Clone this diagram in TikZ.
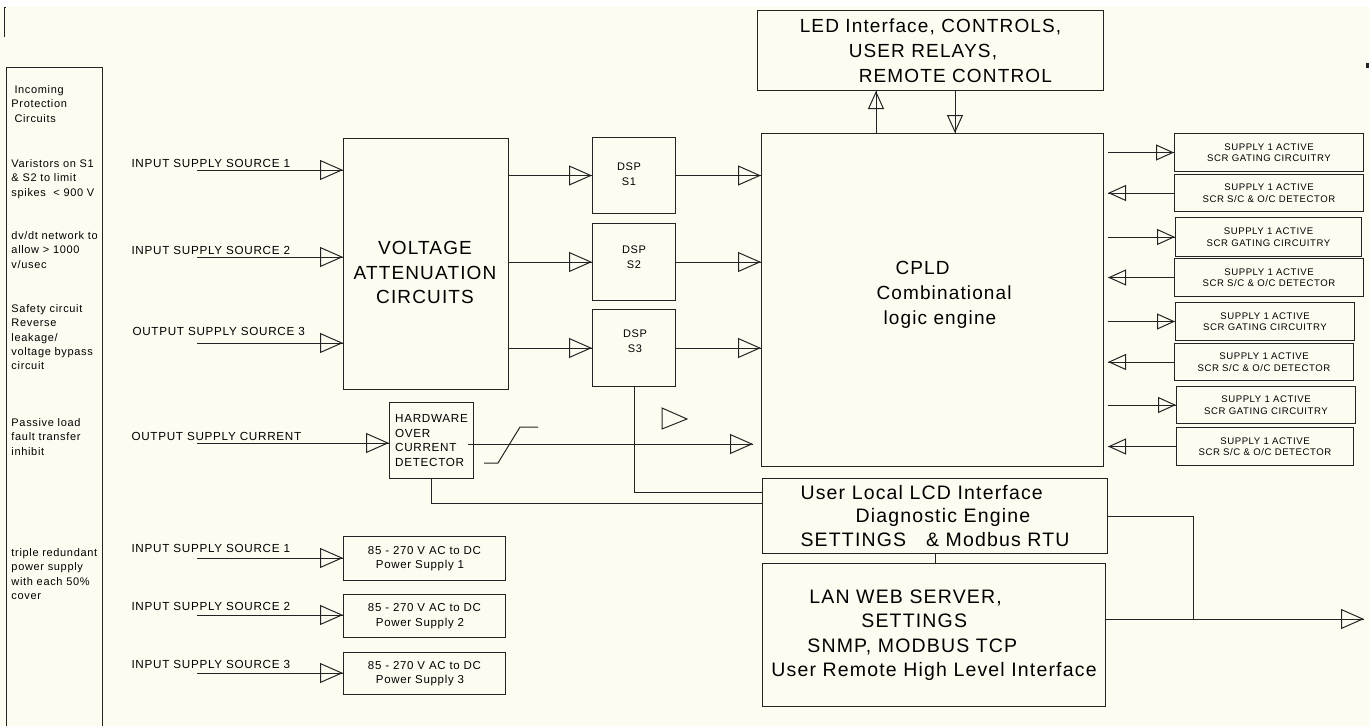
\documentclass[tikz,border=0pt]{standalone}
\usepackage{fontspec}
\setmainfont{Liberation Sans}[LetterSpace=6]
\usetikzlibrary{arrows.meta}
\definecolor{paper}{RGB}{254,252,241}
\definecolor{ink}{RGB}{35,35,35}
\tikzset{every picture/.style={line width=1pt}}
\tikzset{
  blk/.style={draw=ink, inner sep=0pt, anchor=north west},
  wire/.style={draw=ink},
  flow/.style={draw=ink, -{Triangle[open,length=23pt,width=20pt]}, postaction={draw=ink,-}},
  flowsm/.style={draw=ink, -{Triangle[open,length=18pt,width=16pt]}, postaction={draw=ink,-}},
  lbl/.style={inner sep=0pt, anchor=west, font=\fontsize{11.7}{14}\selectfont},
  note/.style={inner sep=0pt, anchor=north west, align=left, font=\fontsize{11}{14.3}\selectfont},
  bigtxt/.style={inner sep=0pt, font=\fontsize{19}{24.5}\selectfont},
  midtxt/.style={align=left, font=\fontsize{11.5}{14.5}\selectfont},
  smtxt/.style={align=center, font=\fontsize{9.6}{11.5}\selectfont},
}

\begin{document}
\begin{tikzpicture}[x=1pt,y=1pt,yscale=-1]
\useasboundingbox (0,0) rectangle (1369,726);
\fill[white] (0,0) rectangle (1369,726);
\fill[paper] (0,7) rectangle (1369,726);
\draw[wire] (4,37) -- (4,7) -- (6,7);
\fill[ink] (1366,63) rectangle (1369,68);

%Shape: Rectangle [protection column]
\node[blk, minimum width=96, minimum height=690] (prot) at (6,67) {};
% Text Node
\node[note] (prot-a) at (11,85) {\hspace*{3pt}Incoming\\Protection\\\hspace*{3pt}Circuits};
% Text Node
\node[note] (prot-b) at (11,159) {Varistors on S1\\\& S2 to limit\\spikes~~< 900 V};
% Text Node
\node[note] (prot-c) at (11,231) {dv/dt network to\\allow > 1000\\v/usec};
% Text Node
\node[note] (prot-d) at (11,304) {Safety circuit\\Reverse\\leakage/\\voltage bypass\\circuit};
% Text Node
\node[note] (prot-e) at (11,418) {Passive load\\fault transfer\\inhibit};
% Text Node
\node[note] (prot-f) at (11,548) {triple redundant\\power supply\\with each 50\%\\cover};

% Text Node
\node[lbl] (src1-lbl) at (131,163) {INPUT SUPPLY SOURCE 1};
% Text Node
\node[lbl] (src2-lbl) at (131,250) {INPUT SUPPLY SOURCE 2};
% Text Node
\node[lbl] (src3-lbl) at (132,331) {OUTPUT SUPPLY SOURCE 3};
% Text Node
\node[lbl] (cur-lbl) at (131,436) {OUTPUT SUPPLY CURRENT};
% Text Node
\node[lbl] (ps1-lbl) at (131,548) {INPUT SUPPLY SOURCE 1};
% Text Node
\node[lbl] (ps2-lbl) at (131,606) {INPUT SUPPLY SOURCE 2};
% Text Node
\node[lbl] (ps3-lbl) at (131,664) {INPUT SUPPLY SOURCE 3};

\coordinate (src1-in) at (197,170);
\coordinate (src2-in) at (197,257);
\coordinate (src3-in) at (197,343);
\coordinate (cur-in) at (197,443);
\coordinate (ps1-in) at (197,558);
\coordinate (ps2-in) at (197,615);
\coordinate (ps3-in) at (197,673);

%Shape: Rectangle [voltage attenuation]
\node[blk, minimum width=165, minimum height=251] (va) at (343,138) {};
\node[bigtxt, align=center] (va-txt) at (425,272.5) {VOLTAGE\\ATTENUATION\\CIRCUITS};

%Shape: Rectangle [dsp]
\node[blk, minimum width=83, minimum height=76] (dsp1) at (592,137) {};
\node[blk, minimum width=83, minimum height=77] (dsp2) at (592,223) {};
\node[blk, minimum width=83, minimum height=77] (dsp3) at (592,309) {};
\node[align=center, inner sep=0pt, font=\fontsize{11}{15}\selectfont] (dsp1-txt) at (629,174.5) {DSP\\S1};
\node[align=center, inner sep=0pt, font=\fontsize{11}{15}\selectfont] (dsp2-txt) at (634,257) {DSP\\S2};
\node[align=center, inner sep=0pt, font=\fontsize{11}{15}\selectfont] (dsp3-txt) at (635,341) {DSP\\S3};

%Shape: Rectangle [cpld]
\node[blk, minimum width=342, minimum height=333] (cpld) at (761,133) {};
\node[bigtxt, align=left, anchor=north west, font=\fontsize{19}{25}\selectfont] (cpld-txt) at (876,261) {\hspace*{19pt}CPLD\\Combinational\\\hspace*{7pt}logic engine};

%Shape: Rectangle [led]
\node[blk, bigtxt, align=left, minimum width=346, minimum height=80, font=\fontsize{19}{25}\selectfont] (led) at (757,10) {LED Interface, CONTROLS,\\\hspace*{49pt}USER RELAYS,\\\hspace*{59pt}REMOTE CONTROL};

%Shape: Rectangle [scr boxes]
\node[blk, smtxt, minimum width=189, minimum height=38] (g1) at (1174,133) {SUPPLY 1 ACTIVE\\SCR GATING CIRCUITRY};
\node[blk, smtxt, minimum width=189, minimum height=37] (d1) at (1174,174) {SUPPLY 1 ACTIVE\\SCR S/C \& O/C DETECTOR};
\node[blk, smtxt, minimum width=186, minimum height=39] (g2) at (1175,217) {SUPPLY 1 ACTIVE\\SCR GATING CIRCUITRY};
\node[blk, smtxt, minimum width=189, minimum height=38] (d2) at (1174,258) {SUPPLY 1 ACTIVE\\SCR S/C \& O/C DETECTOR};
\node[blk, smtxt, minimum width=179, minimum height=38] (g3) at (1175,302) {SUPPLY 1 ACTIVE\\SCR GATING CIRCUITRY};
\node[blk, smtxt, minimum width=179, minimum height=37] (d3) at (1174,343) {SUPPLY 1 ACTIVE\\SCR S/C \& O/C DETECTOR};
\node[blk, smtxt, minimum width=179, minimum height=37] (g4) at (1176,386) {SUPPLY 1 ACTIVE\\SCR GATING CIRCUITRY};
\node[blk, smtxt, minimum width=177, minimum height=38] (d4) at (1176,427) {SUPPLY 1 ACTIVE\\SCR S/C \& O/C DETECTOR};

%Shape: Rectangle [hardware detector]
\node[blk, align=left, minimum width=84, minimum height=76, font=\fontsize{11.7}{14.6}\selectfont] (hw) at (389,402) {HARDWARE\\OVER\\CURRENT\\DETECTOR};

%Shape: Rectangle [lcd, lan]
\node[blk, bigtxt, align=left, minimum width=345, minimum height=75, font=\fontsize{19.5}{23.5}\selectfont] (lcd) at (762,478) {User Local LCD Interface\\\hspace*{55pt}Diagnostic Engine\\SETTINGS~~~\& Modbus RTU};
\node[blk, bigtxt, align=left, minimum width=343, minimum height=143, font=\fontsize{19.5}{24.5}\selectfont] (lan) at (762,563) {\hspace*{38pt}LAN WEB SERVER,\\\hspace*{90pt}SETTINGS\\\hspace*{36pt}SNMP, MODBUS TCP\\User Remote High Level Interface};

%Shape: Rectangle [power supplies]
\node[blk, midtxt, minimum width=162, minimum height=44] (ps1) at (343,536) {85 - 270 V AC to DC\\\hspace*{8pt}Power Supply 1};
\node[blk, midtxt, minimum width=162, minimum height=43] (ps2) at (343,594) {85 - 270 V AC to DC\\\hspace*{8pt}Power Supply 2};
\node[blk, midtxt, minimum width=162, minimum height=42] (ps3) at (343,652) {85 - 270 V AC to DC\\\hspace*{8pt}Power Supply 3};

%Straight Lines [inputs]
\draw[flow] (src1-in) -- (src1-in -| va.west);
\draw[flow] (src2-in) -- (src2-in -| va.west);
\draw[flow] (src3-in) -- (src3-in -| va.west);
\draw[flow] (cur-in) -- (cur-in -| hw.west);
\draw[flow] (ps1-in) -- (ps1-in -| ps1.west);
\draw[flow] (ps2-in) -- (ps2-in -| ps2.west);
\draw[flow] (ps3-in) -- (ps3-in -| ps3.west);

%Straight Lines [attenuation to dsp to cpld]
\draw[flow] (va.east |- dsp1.west) -- (dsp1.west);
\draw[flow] (va.east |- dsp2.west) -- (dsp2.west);
\draw[flow] (va.east |- dsp3.west) -- (dsp3.west);
\draw[flow] (dsp1.east) -- (dsp1.east -| cpld.west);
\draw[flow] (dsp2.east) -- (dsp2.east -| cpld.west);
\draw[flow] (dsp3.east) -- (dsp3.east -| cpld.west);

%Straight Lines [led]
\coordinate (led-up) at (876,0);
\coordinate (led-dn) at (955,0);
\draw[flowsm] (led-up |- cpld.north) -- (led-up |- led.south);
\draw[flowsm] (led-dn |- led.south) -- (led-dn |- cpld.north);

%Straight Lines [scr]
\coordinate (bus) at (1108,0);
\draw[flowsm] (bus |- g1.west) -- (g1.west);
\draw[flowsm] (d1.west) -- (bus |- d1.west);
\draw[flowsm] (bus |- g2.west) -- (g2.west);
\draw[flowsm] (d2.west) -- (bus |- d2.west);
\draw[flowsm] (bus |- g3.west) -- (g3.west);
\draw[flowsm] (d3.west) -- (bus |- d3.west);
\draw[flowsm] (bus |- g4.west) -- (g4.west);
\draw[flowsm] (d4.west) -- (bus |- d4.west);

%Straight Lines [hardware detector]
\coordinate (hw-out) at (468,444);
\coordinate (hw-tip) at (753,444);
\draw[flow] (hw-out) -- (hw-tip);
\draw[wire] (484,463) -- (498,463) -- (520,427) -- (538,427);
\draw[wire] (662,408) -- (687,419) -- (662,429) -- cycle;
\coordinate (hw-bus) at (762,503);
\coordinate (dsp-bus) at (762,492);
\draw[wire] (hw.south) |- (hw-bus);
\draw[wire] (dsp3.south) |- (dsp-bus);

%Straight Lines [lcd, lan]
\draw[wire] (lcd.south) -- (lcd.south |- lan.north);
\coordinate (net-j) at (1193,619);
\coordinate (net-tip) at (1364,619);
\draw[wire] (lcd.east) -| (net-j);
\draw[flow] (lan.east |- net-j) -- (net-tip);

\end{tikzpicture}
\end{document}
